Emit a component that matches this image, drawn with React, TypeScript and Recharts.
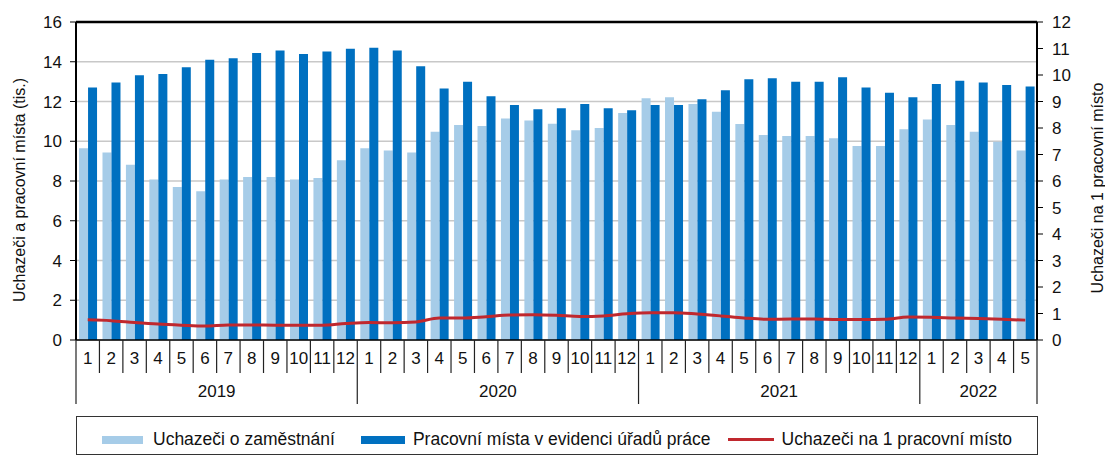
import { Bar, CartesianGrid, ComposedChart, Line, ReferenceLine, XAxis, YAxis } from "recharts";

const years = [2019, 2020, 2021, 2022];
const monthsInYear = [12, 12, 12, 5];

// Uchazeči o zaměstnání (tis.)
const uchazeci = [
  9.65, 9.43, 8.82, 8.08, 7.7, 7.48, 8.08, 8.2, 8.2, 8.08, 8.15, 9.04,
  9.65, 9.53, 9.43, 10.48, 10.82, 10.77, 11.15, 11.05, 10.88, 10.55, 10.67, 11.42,
  12.16, 12.21, 11.87, 11.49, 10.87, 10.31, 10.26, 10.26, 10.15, 9.76, 9.76, 10.6,
  11.1, 10.82, 10.48, 9.98, 9.53,
];

// Pracovní místa v evidenci úřadů práce (tis.)
const mista = [
  12.71, 12.95, 13.32, 13.38, 13.72, 14.1, 14.17, 14.44, 14.56, 14.39, 14.51, 14.66,
  14.71, 14.56, 13.77, 12.66, 13.0, 12.26, 11.82, 11.61, 11.66, 11.87, 11.66, 11.56,
  11.82, 11.82, 12.11, 12.56, 13.12, 13.17, 13.0, 13.0, 13.22, 12.71, 12.44, 12.21,
  12.88, 13.05, 12.95, 12.83, 12.76,
];

// Uchazeči na 1 pracovní místo
const pomer = [
  0.76, 0.73, 0.66, 0.6, 0.56, 0.53, 0.57, 0.57, 0.56, 0.56, 0.56, 0.62,
  0.66, 0.65, 0.68, 0.83, 0.83, 0.88, 0.94, 0.95, 0.93, 0.89, 0.91, 0.99,
  1.03, 1.03, 0.98, 0.91, 0.83, 0.78, 0.79, 0.79, 0.77, 0.77, 0.78, 0.87,
  0.86, 0.83, 0.81, 0.78, 0.75,
];

const leftTicks = [0, 2, 4, 6, 8, 10, 12, 14, 16];
const rightTicks = [0, 1, 2, 3, 4, 5, 6, 7, 8, 9, 10, 11, 12];

const LIGHT = "#A6CCE8";
const DARK = "#0070C0";
const RED = "#C0282E";
const FONT = "'Liberation Sans', Arial, sans-serif";

const data: any[] = [];
years.forEach((year, yi) => {
  for (let m = 1; m <= monthsInYear[yi]; m++) {
    const i = data.length;
    data.push({
      id: `${year}-${m}`,
      year,
      month: m,
      count: monthsInYear[yi],
      uchazeci: uchazeci[i],
      mista: mista[i],
      pomer: pomer[i],
    });
  }
});

const PLOT_LEFT = 76;
const PLOT_RIGHT = 1037;
const BAND = (PLOT_RIGHT - PLOT_LEFT) / data.length;

function MonthTick(props: any) {
  const { x, y, index } = props;
  const d = data[index];
  if (!d) return null;
  const left = x - BAND / 2;
  const last = index === data.length - 1;
  return (
    <g>
      <line x1={left} x2={left} y1={y} y2={y + (d.month === 1 ? 64 : 33)} stroke="#222" strokeWidth={1.2} />
      {last && <line x1={x + BAND / 2} x2={x + BAND / 2} y1={y} y2={y + 64} stroke="#222" strokeWidth={1.2} />}
      <text x={x} y={y + 24} textAnchor="middle" fontSize={17} fontFamily={FONT} fill="#111">
        {d.month}
      </text>
      {d.month === 1 && (
        <text x={left + (d.count * BAND) / 2} y={y + 57} textAnchor="middle" fontSize={17} fontFamily={FONT} fill="#111">
          {d.year}
        </text>
      )}
    </g>
  );
}

function LegendBox() {
  const item = { display: "flex", alignItems: "center" } as const;
  return (
    <div
      style={{
        position: "absolute",
        left: 76,
        top: 416,
        width: 962,
        height: 39,
        border: "1px solid #333",
        display: "flex",
        alignItems: "center",
        paddingLeft: 25,
        boxSizing: "border-box",
        fontFamily: FONT,
        fontSize: 17.5,
        color: "#111",
        paddingTop: 8,
      }}
    >
      <div style={item}>
        <div style={{ width: 41, height: 8, background: LIGHT, marginRight: 10 }} />
        <span>Uchazeči o zaměstnání</span>
      </div>
      <div style={{ ...item, marginLeft: 26 }}>
        <div style={{ width: 44, height: 8, background: DARK, marginRight: 8 }} />
        <span>Pracovní místa v evidenci úřadů práce</span>
      </div>
      <div style={{ ...item, marginLeft: 17 }}>
        <div style={{ width: 46, height: 3, background: RED, marginRight: 8 }} />
        <span>Uchazeči na 1 pracovní místo</span>
      </div>
    </div>
  );
}

export default function App() {
  const tickStyle = { fontSize: 17, fontFamily: FONT, fill: "#111" };
  return (
    <div style={{ position: "absolute", left: 0, top: 0, width: 1105, height: 459, background: "#fff" }}>
      <ComposedChart
        width={1105}
        height={405}
        data={data}
        margin={{ top: 22, right: 18, left: 16, bottom: 0 }}
        barCategoryGap="13%"
        barGap={0}
      >
        <CartesianGrid yAxisId="left" vertical={false} stroke="#C8C8C8" strokeWidth={1.5} />
        <XAxis
          dataKey="id"
          interval={0}
          height={65}
          tickSize={0}
          tickMargin={0}
          tickLine={false}
          axisLine={{ stroke: "#000", strokeWidth: 1.5 }}
          tick={<MonthTick />}
        />
        <YAxis
          yAxisId="left"
          width={60}
          domain={[0, 16]}
          ticks={leftTicks}
          tickSize={6}
          tickMargin={8}
          axisLine={{ stroke: "#000", strokeWidth: 2 }}
          tickLine={{ stroke: "#000" }}
          tick={tickStyle}
          label={(p: any) => (
            <text
              x={19}
              y={190}
              transform="rotate(-90 19 190)"
              textAnchor="middle"
              dominantBaseline="central"
              fontSize={16}
              fontFamily={FONT}
              fill="#111"
            >
              Uchazeči a pracovní místa (tis.)
            </text>
          )}
        />
        <YAxis
          yAxisId="right"
          orientation="right"
          width={50}
          domain={[0, 12]}
          ticks={rightTicks}
          tickSize={6}
          tickMargin={9}
          axisLine={{ stroke: "#000", strokeWidth: 2 }}
          tickLine={{ stroke: "#000" }}
          tick={tickStyle}
          label={(p: any) => (
            <text
              x={1097}
              y={188}
              transform="rotate(-90 1097 188)"
              textAnchor="middle"
              dominantBaseline="central"
              fontSize={16}
              fontFamily={FONT}
              fill="#111"
            >
              Uchazeči na 1 pracovní místo
            </text>
          )}
        />
        <ReferenceLine yAxisId="left" y={16} stroke="#000" strokeWidth={2.5} />
        <Bar yAxisId="left" dataKey="uchazeci" name="Uchazeči o zaměstnání" fill={LIGHT} isAnimationActive={false} />
        <Bar yAxisId="left" dataKey="mista" name="Pracovní místa v evidenci úřadů práce" fill={DARK} isAnimationActive={false} />
        <Line
          yAxisId="right"
          type="monotone"
          dataKey="pomer"
          name="Uchazeči na 1 pracovní místo"
          stroke={RED}
          strokeWidth={3}
          dot={false}
          isAnimationActive={false}
        />
      </ComposedChart>
      <LegendBox />
    </div>
  );
}
